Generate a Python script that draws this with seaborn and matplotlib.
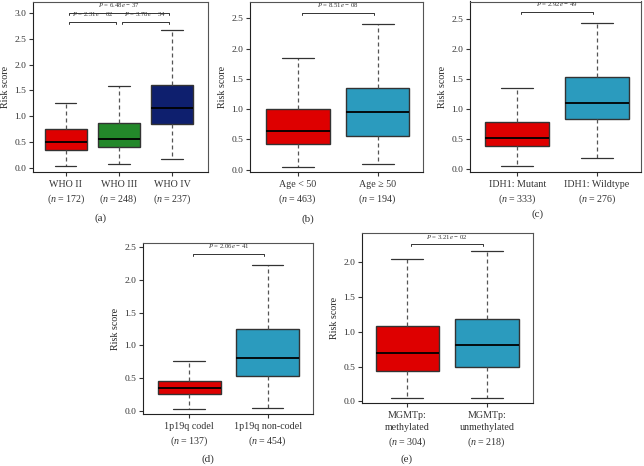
"""Risk score boxplots by clinical subgroup, five panels."""

import matplotlib

matplotlib.use("Agg")
import matplotlib.pyplot as plt
import pandas as pd
import seaborn as sns

# five-number summaries per group: low whisker, Q1, median, Q3, high whisker
WHO_GROUPS = ["WHO II", "WHO III", "WHO IV"]
WHO_N = [172, 248, 237]
WHO_STATS = [
    [0.04, 0.35, 0.51, 0.75, 1.26],
    [0.07, 0.40, 0.56, 0.87, 1.59],
    [0.17, 0.84, 1.15, 1.60, 2.67],
]

AGE_GROUPS = ["Age < 50", "Age ≥ 50"]
AGE_N = [463, 194]
AGE_STATS = [
    [0.05, 0.43, 0.64, 1.00, 1.84],
    [0.10, 0.56, 0.96, 1.35, 2.41],
]

IDH_GROUPS = ["IDH1: Mutant", "IDH1: Wildtype"]
IDH_N = [333, 276]
IDH_STATS = [
    [0.05, 0.38, 0.52, 0.78, 1.35],
    [0.18, 0.84, 1.11, 1.53, 2.44],
]

CODEL_GROUPS = ["1p19q codel", "1p19q non-codel"]
CODEL_N = [137, 454]
CODEL_STATS = [
    [0.04, 0.26, 0.35, 0.46, 0.77],
    [0.05, 0.54, 0.81, 1.25, 2.22],
]

MGMT_GROUPS = ["MGMTp:\nmethylated", "MGMTp:\nunmethylated"]
MGMT_N = [304, 218]
MGMT_STATS = [
    [0.05, 0.43, 0.69, 1.09, 2.05],
    [0.04, 0.50, 0.81, 1.18, 2.17],
]

# (left group, right group, bracket height, p mantissa, p exponent)
WHO_PVALS = [(0, 2, 3.00, "6.48", "37"), (0, 1, 2.82, "2.31", "02"), (1, 2, 2.82, "3.78", "34")]
AGE_PVALS = [(0, 1, 2.59, "8.51", "08")]
IDH_PVALS = [(0, 1, 2.63, "2.92", "49")]
CODEL_PVALS = [(0, 1, 2.39, "2.06", "41")]
MGMT_PVALS = [(0, 1, 2.26, "3.21", "02")]

RED = "#DE0000"
GREEN = "#23882A"
NAVY = "#0E1F6E"
TEAL = "#2B9BBE"

W, H = 644, 466


def px_axes(fig, left, right, top, bottom):
    return fig.add_axes([left / W, 1 - bottom / H, (right - left) / W, (bottom - top) / H])


def draw_panel(ax, groups, counts, stats, colors, pvals, ylim, xlim, yticks, width_px):
    rows = []
    for group, values in zip(groups, stats):
        for value in values:
            rows.append({"group": group, "score": value})
    data = pd.DataFrame(rows)

    sns.boxplot(
        data=data, x="group", y="score", hue="group", order=groups, hue_order=groups,
        palette=colors, saturation=1, whis=(0, 100), width=0.8, showfliers=False,
        legend=False, linewidth=1.0, ax=ax,
        boxprops={"edgecolor": "#333333"},
        whiskerprops={"color": "#555555", "linestyle": (0, (3.2, 2.4)), "linewidth": 0.9},
        capprops={"color": "#333333", "linewidth": 0.9},
        medianprops={"color": "black", "linewidth": 1.3},
    )

    span = ylim[1] - ylim[0]
    for left, right, level, mant, expo in pvals:
        gap = 0.06 if len(groups) > 2 and right - left == 1 else 0.05
        x0, x1 = left + gap, right - gap
        tick = span * 0.012
        ax.plot([x0, x0, x1, x1], [level - tick, level, level, level - tick],
                color="#333333", linewidth=0.7, clip_on=False)
        ax.text((x0 + x1) / 2, level + span * 0.022,
                f"$\\mathit{{P}}$ = {mant}$\\mathit{{e}}$ − {expo}",
                ha="center", va="bottom", fontsize=4.9, color="#333333")

    ax.set_xlim(*xlim)
    ax.set_ylim(*ylim)
    ax.set_yticks(yticks)
    ax.set_yticklabels([f"{t:.1f}" for t in yticks])
    ax.set_xticks(range(len(groups)))
    ax.set_xticklabels([f"{g}\n($\\mathit{{n}}$ = {n})" for g, n in zip(groups, counts)],
                       fontsize=7.2, linespacing=1.35)
    ax.set_xlabel("")
    ax.set_ylabel("Risk score", fontsize=7.2)
    ax.yaxis.set_label_coords(-23 / width_px, 0.5)
    ax.tick_params(axis="y", labelsize=6.8, length=3, width=0.8, pad=2, color="#333333")
    ax.tick_params(axis="x", length=3, width=0.8, pad=3, color="#333333")
    for spine in ax.spines.values():
        spine.set_visible(True)
        spine.set_color("#555555")
        spine.set_linewidth(0.8)
    ax.spines["bottom"].set_color("#222222")
    ax.spines["left"].set_color("#222222")


def main():
    sns.set_style("ticks")
    plt.rcParams["font.family"] = ["Liberation Serif", "DejaVu Serif"]
    plt.rcParams["mathtext.fontset"] = "custom"
    plt.rcParams["mathtext.rm"] = "Liberation Serif"
    plt.rcParams["mathtext.it"] = "Liberation Serif:italic"
    plt.rcParams["text.color"] = "#333333"
    plt.rcParams["xtick.color"] = "#333333"
    plt.rcParams["ytick.color"] = "#333333"

    fig = plt.figure(figsize=(W / 100, H / 100), dpi=100)
    fig.patch.set_facecolor("white")

    ax_a = px_axes(fig, 33, 208, 1.5, 172)
    draw_panel(ax_a, WHO_GROUPS, WHO_N, WHO_STATS, [RED, GREEN, NAVY], WHO_PVALS,
               (-0.08, 3.22), (-0.62, 2.68), [0.0, 0.5, 1.0, 1.5, 2.0, 2.5, 3.0], 175)

    ax_b = px_axes(fig, 250, 423, 1.5, 172)
    draw_panel(ax_b, AGE_GROUPS, AGE_N, AGE_STATS, [RED, TEAL], AGE_PVALS,
               (-0.04, 2.78), (-0.60, 1.57), [0.0, 0.5, 1.0, 1.5, 2.0, 2.5], 173)

    ax_c = px_axes(fig, 470, 641, 1.5, 172)
    draw_panel(ax_c, IDH_GROUPS, IDH_N, IDH_STATS, [RED, TEAL], IDH_PVALS,
               (-0.05, 2.80), (-0.59, 1.55), [0.0, 0.5, 1.0, 1.5, 2.0, 2.5], 171)

    ax_d = px_axes(fig, 143, 313, 243, 414)
    draw_panel(ax_d, CODEL_GROUPS, CODEL_N, CODEL_STATS, [RED, TEAL], CODEL_PVALS,
               (-0.04, 2.556), (-0.585, 1.575), [0.0, 0.5, 1.0, 1.5, 2.0, 2.5], 170)

    ax_e = px_axes(fig, 362, 533, 232.5, 403)
    draw_panel(ax_e, MGMT_GROUPS, MGMT_N, MGMT_STATS, [RED, TEAL], MGMT_PVALS,
               (-0.025, 2.43), (-0.57, 1.58), [0.0, 0.5, 1.0, 1.5, 2.0], 171)

    for label, x, y in [("(a)", 101, 218), ("(b)", 308, 219), ("(c)", 538, 214),
                        ("(d)", 208, 459), ("(e)", 407, 459)]:
        fig.text(x / W, 1 - y / H, label, ha="center", va="center", fontsize=8)

    fig.savefig("out.png", dpi=100, facecolor="white")
    plt.close(fig)


if __name__ == "__main__":
    main()
